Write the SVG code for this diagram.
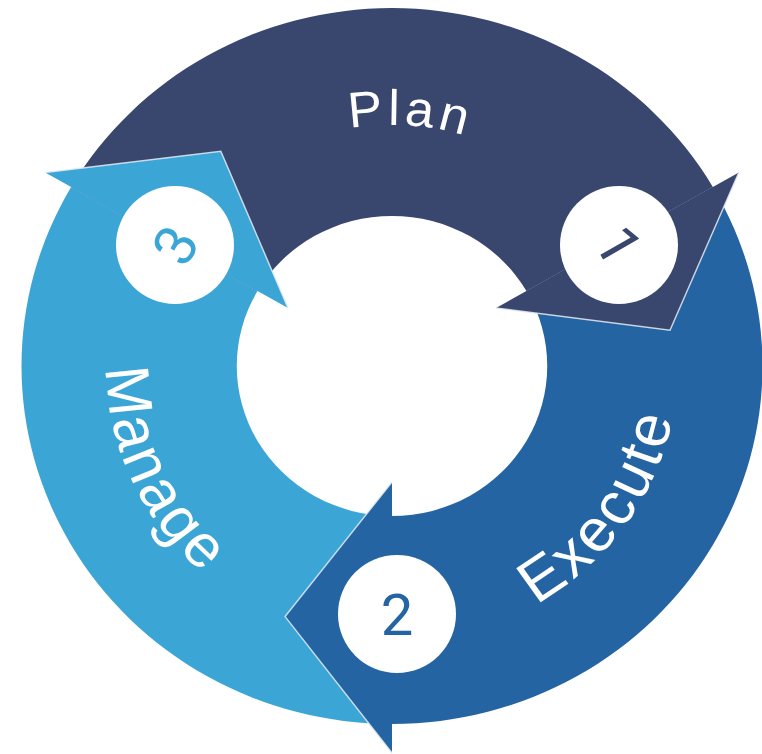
<svg xmlns="http://www.w3.org/2000/svg" width="762" height="754" viewBox="0 0 762 754">
<defs>
<style>
.lbl{font-family:"Liberation Sans",Arial,sans-serif;fill:#fff;font-size:60px;letter-spacing:3px}
.num{font-family:Roboto,"Liberation Sans",Arial,sans-serif;font-size:58px;text-anchor:middle}
.edge{fill:none;stroke:#e4ecf5;stroke-width:1.4;stroke-opacity:0.85;stroke-linejoin:miter}
.disc{fill:#fff}
.plan{fill:#39476f}
.exec{fill:#2564a3}
.man{fill:#3ba6d6}
</style>
<path id="pPlan" d="M -199.8 -134.8 A 241 241 0 0 1 216.6 -105.6"/>
<path id="pExec" d="M -24.1 275.0 A 276 276 0 0 0 250.1 -116.6"/>
<path id="pMan" d="M -218.6 -168.5 A 276 276 0 0 0 -13.5 275.7"/>
</defs>
<rect width="762" height="754" fill="#fff"/>
<g id="ring" transform="translate(392,366) scale(1.035,1)">
<path class="plan" d="M -310 -179 A 358 358 0 0 1 310 -179 L 129.9 -75 A 150 150 0 0 0 -129.9 -75 Z"/>
<path class="exec" d="M 310 -179 A 358 358 0 0 1 0 358 L 0 150 A 150 150 0 0 0 129.9 -75 Z"/>
<path class="man" d="M 0 358 A 358 358 0 0 1 -310 -179 L -129.9 -75 A 150 150 0 0 0 0 150 Z"/>
</g>
<g id="plan-node">
<g transform="translate(392,366) scale(1.035,1)">
<polygon class="plan" points="335.1,-193.5 268.6,-35.8 100.5,-58"/>
<polyline class="edge" points="335.1,-193.5 268.6,-35.8 100.5,-58"/>
<text class="lbl" style="font-size:50px;letter-spacing:4px"><textPath href="#pPlan" startOffset="50%" text-anchor="middle">Plan</textPath></text>
</g>
<circle class="disc" cx="619" cy="245" r="59"/>
<text class="num" fill="#39476f" transform="translate(619,245) rotate(60)" y="21">1</text>
</g>
<g id="execute-node">
<g transform="translate(392,366) scale(1.035,1)">
<polygon class="exec" points="0,387 -103.3,250.6 0,116"/>
<polyline class="edge" points="0,387 -103.3,250.6 0,116"/>
<text class="lbl"><textPath href="#pExec" startOffset="50%" text-anchor="middle">Execute</textPath></text>
</g>
<circle class="disc" cx="397" cy="614" r="59"/>
<text class="num" fill="#2564a3" x="397" y="635">2</text>
</g>
<g id="manage-node">
<g transform="translate(392,366) scale(1.035,1)">
<polygon class="man" points="-335.1,-193.5 -165.4,-214.7 -100.5,-58"/>
<polyline class="edge" points="-335.1,-193.5 -165.4,-214.7 -100.5,-58"/>
<text class="lbl"><textPath href="#pMan" startOffset="50%" text-anchor="middle">Manage</textPath></text>
</g>
<circle class="disc" cx="175" cy="245" r="59"/>
<text class="num" fill="#3ba6d6" transform="translate(175,245) rotate(-60)" y="21">3</text>
</g>
</svg>
